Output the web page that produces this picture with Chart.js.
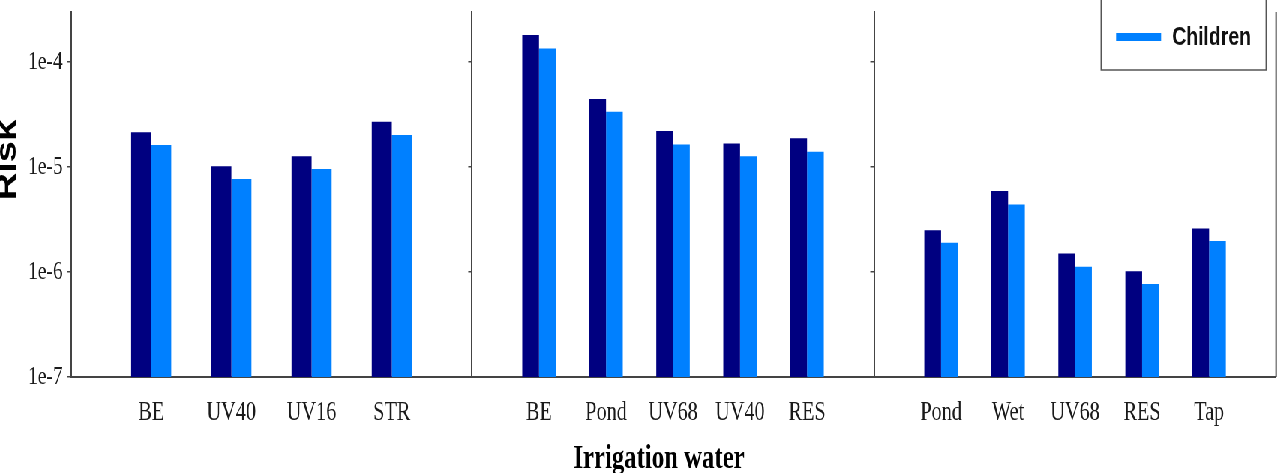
<!DOCTYPE html>
<html><head><meta charset="utf-8">
<script src="https://cdn.jsdelivr.net/npm/chart.js@4.4.0/dist/chart.umd.min.js"></script>
<style>
html,body{margin:0;padding:0;overflow:hidden;background:#fff;}
#wrap{width:1283px;height:473px;overflow:hidden;position:relative;}
#inner{position:absolute;left:0;top:0;width:1711px;height:473px;transform:scaleX(0.749854);transform-origin:0 0;}
#inner canvas{position:absolute;left:0;top:0;width:1711px;height:473px;}
</style></head><body>
<div id="wrap"><div id="inner">
<canvas id="c1" width="1711" height="473"></canvas>
<canvas id="c2" width="1711" height="473"></canvas>
<canvas id="c3" width="1711" height="473"></canvas>
</div></div>
<script>
// ---- data ----
const seriesNames = ['Adults', 'Children'];
const legendSeries = ['Children'];
const categories1 = ['BE', 'UV40', 'UV16', 'STR'];
const adults1   = [2.15e-5, 1.02e-5, 1.27e-5, 2.70e-5];
const children1 = [1.62e-5, 7.7e-6, 9.6e-6, 2.02e-5];
const categories2 = ['BE', 'Pond', 'UV68', 'UV40', 'RES'];
const adults2   = [1.81e-4, 4.44e-5, 2.20e-5, 1.68e-5, 1.88e-5];
const children2 = [1.35e-4, 3.36e-5, 1.64e-5, 1.27e-5, 1.40e-5];
const categories3 = ['Pond', 'Wet', 'UV68', 'RES', 'Tap'];
const adults3   = [2.5e-6, 5.9e-6, 1.5e-6, 1.02e-6, 2.6e-6];
const children3 = [1.9e-6, 4.4e-6, 1.12e-6, 7.7e-7, 1.97e-6];
const yTickValues = [1e-7, 1e-6, 1e-5, 1e-4];
const yTickLabels = ['1e-7', '1e-6', '1e-5', '1e-4'];
const yAxisTitle = 'Risk';
const xAxisTitle = 'Irrigation water';

// ---- styles / layout ----
const W = 1711;
const SX = 1283 / W;              // horizontal compression of the picture
const colors = ['#000080', '#0080ff'];
const axisColor = '#444';
const textColor = '#1a1a1a';
const serif = '"Liberation Serif", "Times New Roman", serif';
const sans = '"Liberation Sans", Arial, sans-serif';
// panel edges in picture pixels
const edges = [71, 472, 874, 1276];

const panels = [
  {canvas: 'c1', cats: categories1, vals: [adults1, children1]},
  {canvas: 'c2', cats: categories2, vals: [adults2, children2]},
  {canvas: 'c3', cats: categories3, vals: [adults3, children3]}
];

const decor = {
  id: 'decor',
  afterDraw(chart) {
    const ctx = chart.ctx;
    const area = chart.chartArea;
    ctx.save();
    // right frame
    ctx.strokeStyle = axisColor;
    ctx.lineWidth = 2;
    ctx.beginPath();
    ctx.moveTo(area.right, area.top);
    ctx.lineTo(area.right, area.bottom);
    ctx.stroke();
    // y title
    ctx.fillStyle = '#000';
    ctx.save();
    ctx.translate(16 / SX, 160);
    ctx.rotate(-Math.PI / 2);
    ctx.textAlign = 'center';
    ctx.textBaseline = 'alphabetic';
    ctx.font = 'bold 38px ' + sans;
    ctx.fillText(yAxisTitle, 0, 0);
    ctx.restore();
    // x title
    ctx.textAlign = 'center';
    ctx.textBaseline = 'alphabetic';
    ctx.font = 'bold 33px ' + serif;
    ctx.fillText(xAxisTitle, 659 / SX, 468);
    // legend
    const L = 1101 / SX, R = 1266 / SX, B = 70;
    ctx.strokeStyle = '#555';
    ctx.lineWidth = 1.5;
    ctx.beginPath();
    ctx.moveTo(L, -5); ctx.lineTo(L, B); ctx.lineTo(R, B); ctx.lineTo(R, -5);
    ctx.stroke();
    legendSeries.forEach((name, k) => {
      const ds = chart.data.datasets.find(d => d.label === name);
      const cy = 37 + k * 34;
      ctx.fillStyle = ds.backgroundColor;
      ctx.fillRect(1116 / SX, cy - 4, 45 / SX, 8);
      ctx.fillStyle = '#111';
      ctx.textAlign = 'left';
      ctx.textBaseline = 'middle';
      ctx.font = 'bold 26px ' + sans;
      ctx.fillText(name, 1172 / SX, cy + 1);
    });
    ctx.restore();
  }
};

panels.forEach((p, k) => {
  const first = k === 0;
  const yWidth = first ? edges[0] / SX : 5;
  const datasets = p.vals.map((arr, s) => ({
    label: seriesNames[s],
    data: arr.map((v, i) => ({x: i + 1, y: v})),
    backgroundColor: colors[s],
    borderWidth: 0,
    categoryPercentage: 0.5,
    barPercentage: 1.0
  }));
  new Chart(document.getElementById(p.canvas), {
    type: 'bar',
    data: {datasets},
    options: {
      responsive: false,
      animation: false,
      devicePixelRatio: 1,
      layout: {padding: {
        top: 12, bottom: 0,
        left: edges[k] / SX - yWidth,
        right: W - edges[k + 1] / SX
      }},
      plugins: {legend: {display: false}, tooltip: {enabled: false}, title: {display: false}},
      scales: {
        y: {
          type: 'logarithmic',
          position: 'left',
          min: 1e-7, max: 3e-4,
          afterBuildTicks: s => { s.ticks = yTickValues.map(v => ({value: v})); },
          afterFit: s => { s.width = yWidth; s.paddingTop = 0; s.paddingBottom = 0; },
          grid: {display: true, drawOnChartArea: false, drawTicks: true, tickLength: 5, color: axisColor, lineWidth: 1.5},
          border: {display: true, color: axisColor, width: 2},
          ticks: {
            display: first,
            autoSkip: false, padding: 6, color: textColor,
            font: {family: serif, size: 26},
            callback: (v, i) => yTickLabels[i]
          }
        },
        x: {
          type: 'linear',
          position: 'bottom',
          offset: false,
          min: 0, max: p.cats.length + 1,
          afterBuildTicks: s => { s.ticks = p.cats.map((c, i) => ({value: i + 1})); },
          afterFit: s => { s.height = 96; s.paddingLeft = 0; s.paddingRight = 0; },
          grid: {display: false, drawTicks: false, offset: false},
          border: {display: true, color: axisColor, width: 2},
          ticks: {
            autoSkip: false, maxRotation: 0, minRotation: 0, padding: 20, color: textColor,
            font: {family: serif, size: 27},
            callback: (v, i) => p.cats[i]
          }
        }
      }
    },
    plugins: k === 2 ? [decor] : []
  });
});
</script>
</body></html>
